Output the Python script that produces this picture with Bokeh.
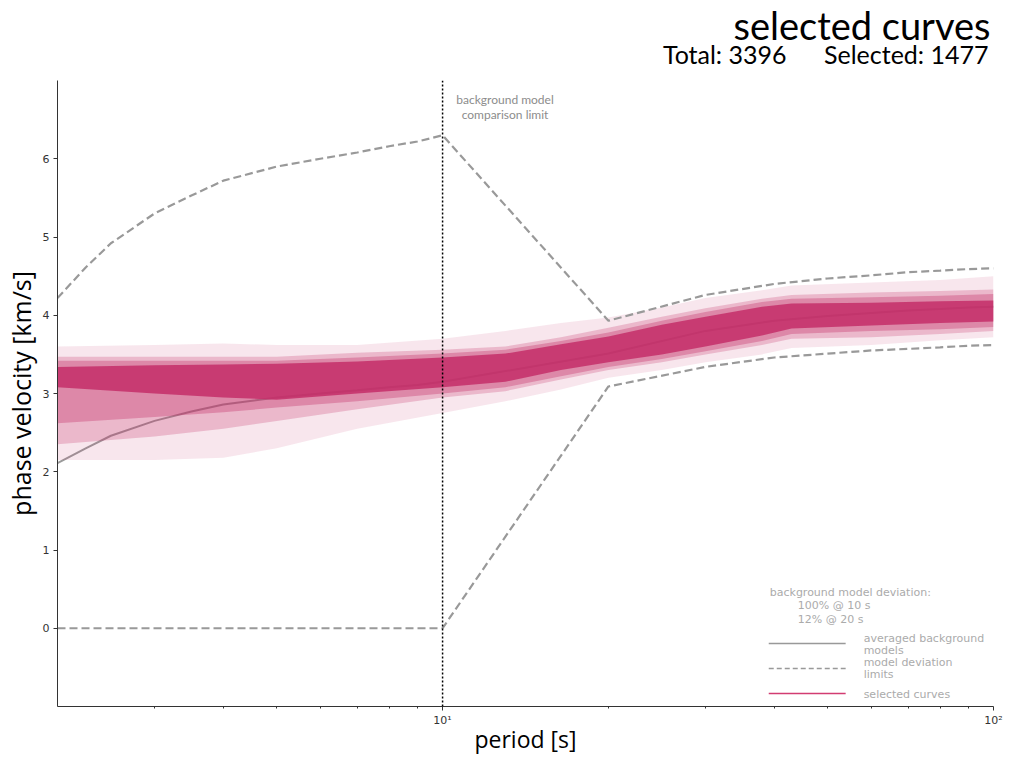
import math
from bokeh.plotting import figure
from bokeh.models import Range1d, FixedTicker, Span, Label, Title, ColumnDataSource
from bokeh.embed import file_html
from bokeh.resources import INLINE

# ---------------- data ----------------
period_bg = [2, 2.25, 2.5, 3, 3.5, 4, 5, 6, 7, 8, 9, 10, 20, 30, 40, 50, 60, 70, 80, 90, 100]
velocity_bg = [2.11, 2.30, 2.46, 2.65, 2.77, 2.86, 2.95, 3.00, 3.04, 3.08, 3.11, 3.15,
               3.51, 3.80, 3.93, 3.99, 4.03, 4.06, 4.08, 4.10, 4.11]
limit_upper = [4.22, 4.61, 4.92, 5.30, 5.53, 5.72, 5.90, 6.00, 6.08, 6.16, 6.22, 6.30,
               3.93, 4.26, 4.40, 4.47, 4.51, 4.55, 4.57, 4.59, 4.60]
limit_lower = [0, 0, 0, 0, 0, 0, 0, 0, 0, 0, 0, 0,
               3.09, 3.34, 3.46, 3.51, 3.55, 3.57, 3.59, 3.61, 3.62]

comparison_limit = 10

# envelope of the selected curves (spread of 1477 curves)
period_band = [2, 3, 4, 5, 7, 10, 13, 16.4, 20, 25, 30, 38, 43, 60, 80, 100]
faint_lo = [2.15, 2.15, 2.18, 2.30, 2.55, 2.75, 2.90, 3.05, 3.20, 3.30, 3.40, 3.50, 3.58, 3.62, 3.68, 3.72]
faint_hi = [3.60, 3.62, 3.64, 3.62, 3.62, 3.70, 3.80, 3.90, 3.97, 4.10, 4.22, 4.32, 4.38, 4.42, 4.45, 4.50]
mid_lo = [2.35, 2.45, 2.55, 2.65, 2.80, 2.95, 3.03, 3.18, 3.30, 3.40, 3.50, 3.62, 3.70, 3.72, 3.76, 3.80]
mid_hi = [3.47, 3.47, 3.47, 3.47, 3.52, 3.56, 3.60, 3.72, 3.84, 3.98, 4.09, 4.21, 4.26, 4.29, 4.31, 4.33]
dense_lo = [2.62, 2.70, 2.76, 2.82, 2.90, 3.00, 3.08, 3.22, 3.34, 3.44, 3.54, 3.67, 3.76, 3.80, 3.82, 3.85]
dense_hi = [3.42, 3.42, 3.42, 3.42, 3.46, 3.51, 3.56, 3.67, 3.78, 3.93, 4.04, 4.17, 4.21, 4.23, 4.25, 4.27]
core_lo = [3.08, 3.00, 2.95, 2.92, 3.00, 3.08, 3.15, 3.30, 3.40, 3.50, 3.60, 3.74, 3.83, 3.87, 3.90, 3.92]
core_hi = [3.34, 3.36, 3.37, 3.38, 3.41, 3.46, 3.51, 3.63, 3.73, 3.88, 3.98, 4.11, 4.15, 4.16, 4.18, 4.19]

total_curves = 3396
selected_curves = 1477

# ---------------- figure ----------------
X0, X1, Y0, Y1 = 2, 100, -1, 7
p = figure(width=1010, height=758, x_axis_type="log",
           x_range=Range1d(X0, X1), y_range=Range1d(Y0, Y1),
           output_backend="svg", toolbar_location=None,
           min_border_left=56, min_border_right=17, min_border_top=80, min_border_bottom=52)
p.outline_line_color = None
p.grid.visible = False
p.background_fill_color = "white"
p.border_fill_color = "white"

# page-pixel -> data helpers for decorations (frame: 56..993 x 80..706 in the picture)
FL, FR, FT, FB = 56, 993, 80, 706
def dx(px):
    return 10 ** (math.log10(X0) + (px - FL) / (FR - FL) * (math.log10(X1) - math.log10(X0)))
def dy(py):
    return Y0 + (FB - py) / (FB - FT) * (Y1 - Y0)

# titles: outermost spacer, then main title, then counts next to the frame
p.title.text = " "
p.title.text_font_size = "10px"
p.title.standoff = 7
p.add_layout(Title(text="Total: %d\u2003\u2003Selected: %d" % (total_curves, selected_curves),
                   align="right", text_font="Lato", text_font_size="25px",
                   text_font_style="normal", text_color="black", standoff=23, offset=5), "above")
p.add_layout(Title(text="selected curves", align="right", text_font="Lato",
                   text_font_size="38px", text_font_style="normal",
                   text_color="black", standoff=-44, offset=3), "above")

# axes
p.xaxis.ticker = FixedTicker(ticks=[10, 100], minor_ticks=[3, 4, 5, 6, 7, 8, 9, 20, 30, 40, 50, 60, 70, 80, 90])
p.xaxis.major_label_overrides = {10: "10\u00b9", 100: "10\u00b2"}
p.yaxis.ticker = FixedTicker(ticks=[0, 1, 2, 3, 4, 5, 6])
for ax in (p.xaxis, p.yaxis):
    ax.axis_line_color = "#333333"
    ax.major_tick_line_color = "#333333"
    ax.minor_tick_line_color = "#333333"
    ax.major_tick_out = 4
    ax.major_tick_in = 0
    ax.minor_tick_out = 2
    ax.minor_tick_in = 0
    ax.major_label_text_font = "DejaVu Sans"
    ax.major_label_text_font_size = "11px"
    ax.major_label_text_color = "#333333"
    ax.axis_label_text_font = "Open Sans"
    ax.axis_label_text_font_style = "normal"
    ax.axis_label_text_color = "black"
p.yaxis.minor_tick_line_color = None
p.xaxis.axis_label = "period [s]"
p.xaxis.axis_label_text_font_size = "23px"
p.xaxis.major_label_standoff = 3
p.xaxis.axis_label_standoff = -7
p.yaxis.axis_label = "phase velocity [km/s]"
p.yaxis.axis_label_text_font_size = "25px"
p.yaxis.major_label_standoff = 4
p.yaxis.axis_label_standoff = 2

# averaged background model
p.line(period_bg, velocity_bg, line_color="#7a7a7a", line_width=2, line_alpha=0.75)

# selected curves (envelopes)
pink = "#c42e68"
band = ColumnDataSource(dict(x=period_band, flo=faint_lo, fhi=faint_hi, mlo=mid_lo, mhi=mid_hi,
                             dlo=dense_lo, dhi=dense_hi, clo=core_lo, chi=core_hi))
p.varea(x="x", y1="flo", y2="fhi", source=band, fill_color=pink, fill_alpha=0.12)
p.varea(x="x", y1="mlo", y2="mhi", source=band, fill_color=pink, fill_alpha=0.25)
p.varea(x="x", y1="dlo", y2="dhi", source=band, fill_color=pink, fill_alpha=0.35)
p.varea(x="x", y1="clo", y2="chi", source=band, fill_color=pink, fill_alpha=0.85)

# deviation limits
p.line(period_bg, limit_upper, line_color="#999999", line_width=2.2, line_dash="8 4")
p.line(period_bg, limit_lower, line_color="#999999", line_width=2.2, line_dash="8 4")

# comparison limit
p.add_layout(Span(location=comparison_limit, dimension="height", line_color="black",
                  line_width=1.5, line_dash="2 2"))
for txt, py in (("background model", 99), ("comparison limit", 114)):
    p.add_layout(Label(x=dx(504), y=dy(py), text=txt, text_align="center", text_baseline="middle",
                       text_font="Lato", text_font_size="12px", text_color="#8c8c8c"))

# legend (drawn by hand)
lg_col = "#ababab"
lg_font = dict(text_font="DejaVu Sans", text_font_size="11px", text_color=lg_col, text_baseline="middle")
p.add_layout(Label(x=dx(769), y=dy(592), text="background model deviation:", **lg_font))
p.add_layout(Label(x=dx(797), y=dy(605), text="100% @ 10 s", **lg_font))
p.add_layout(Label(x=dx(797), y=dy(619), text="12% @ 20 s", **lg_font))
p.line([dx(768), dx(845)], [dy(643), dy(643)], line_color="#999999", line_width=1.6)
p.add_layout(Label(x=dx(863), y=dy(638), text="averaged background", **lg_font))
p.add_layout(Label(x=dx(863), y=dy(650), text="models", **lg_font))
p.line([dx(768), dx(845)], [dy(668), dy(668)], line_color="#999999", line_width=1.6, line_dash="5 3")
p.add_layout(Label(x=dx(863), y=dy(662), text="model deviation", **lg_font))
p.add_layout(Label(x=dx(863), y=dy(674), text="limits", **lg_font))
p.line([dx(768), dx(845)], [dy(693), dy(693)], line_color="#d23c72", line_width=1.6)
p.add_layout(Label(x=dx(863), y=dy(694), text="selected curves", **lg_font))

open("out.html", "w").write(file_html(p, INLINE))
